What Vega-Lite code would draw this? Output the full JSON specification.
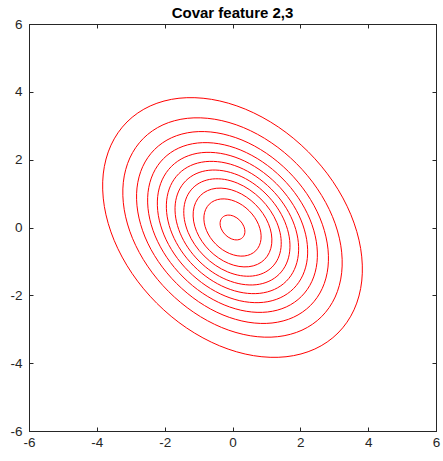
{
  "$schema": "https://vega.github.io/schema/vega-lite/v6.json",
  "width": 407,
  "height": 407,
  "autosize": "none",
  "padding": {"left": 29, "top": 24, "right": 7, "bottom": 30},
  "background": "white",
  "title": {"text": "Covar feature 2,3", "fontSize": 15, "fontWeight": "bold", "font": "Liberation Sans", "color": "#000000", "frame": "group", "offset": 7, "baseline": "alphabetic", "anchor": "middle", "dy": 23},
  "config": {
    "view": {"stroke": "#262626", "strokeWidth": 1},
    "axis": {"domainColor": "#262626", "tickColor": "#262626", "labelColor": "#262626", "labelFont": "Liberation Sans", "labelFontSize": 13.5, "tickSize": -4, "grid": false, "domainWidth": 1, "tickWidth": 1, "labelFlush": false, "labelOverlap": false, "title": null, "labelExpr": "datum.value < 0 ? '-' + abs(datum.value) : '' + datum.value"}
  },
  "data": {"values": [
    {"c":1,"i":0,"x":3.111,"y":-3.111},{"c":1,"i":1,"x":3.583,"y":-2.427},{"c":1,"i":2,"x":3.811,"y":-1.578},{"c":1,"i":3,"x":3.779,"y":-0.621},{"c":1,"i":4,"x":3.49,"y":0.378},{"c":1,"i":5,"x":2.963,"y":1.352},{"c":1,"i":6,"x":2.233,"y":2.233},{"c":1,"i":7,"x":1.352,"y":2.963},{"c":1,"i":8,"x":0.378,"y":3.49},{"c":1,"i":9,"x":-0.621,"y":3.779},{"c":1,"i":10,"x":-1.578,"y":3.811},{"c":1,"i":11,"x":-2.427,"y":3.583},{"c":1,"i":12,"x":-3.111,"y":3.111},{"c":1,"i":13,"x":-3.583,"y":2.427},{"c":1,"i":14,"x":-3.811,"y":1.578},{"c":1,"i":15,"x":-3.779,"y":0.621},{"c":1,"i":16,"x":-3.49,"y":-0.378},{"c":1,"i":17,"x":-2.963,"y":-1.352},{"c":1,"i":18,"x":-2.233,"y":-2.233},{"c":1,"i":19,"x":-1.352,"y":-2.963},{"c":1,"i":20,"x":-0.378,"y":-3.49},{"c":1,"i":21,"x":0.621,"y":-3.779},{"c":1,"i":22,"x":1.578,"y":-3.811},{"c":1,"i":23,"x":2.427,"y":-3.583},
    {"c":2,"i":0,"x":2.628,"y":-2.628},{"c":2,"i":1,"x":3.027,"y":-2.05},{"c":2,"i":2,"x":3.219,"y":-1.332},{"c":2,"i":3,"x":3.192,"y":-0.524},{"c":2,"i":4,"x":2.948,"y":0.32},{"c":2,"i":5,"x":2.502,"y":1.142},{"c":2,"i":6,"x":1.886,"y":1.886},{"c":2,"i":7,"x":1.142,"y":2.502},{"c":2,"i":8,"x":0.32,"y":2.948},{"c":2,"i":9,"x":-0.524,"y":3.192},{"c":2,"i":10,"x":-1.332,"y":3.219},{"c":2,"i":11,"x":-2.05,"y":3.027},{"c":2,"i":12,"x":-2.628,"y":2.628},{"c":2,"i":13,"x":-3.027,"y":2.05},{"c":2,"i":14,"x":-3.219,"y":1.332},{"c":2,"i":15,"x":-3.192,"y":0.524},{"c":2,"i":16,"x":-2.948,"y":-0.32},{"c":2,"i":17,"x":-2.502,"y":-1.142},{"c":2,"i":18,"x":-1.886,"y":-1.886},{"c":2,"i":19,"x":-1.142,"y":-2.502},{"c":2,"i":20,"x":-0.32,"y":-2.948},{"c":2,"i":21,"x":0.524,"y":-3.192},{"c":2,"i":22,"x":1.332,"y":-3.219},{"c":2,"i":23,"x":2.05,"y":-3.027},
    {"c":3,"i":0,"x":2.299,"y":-2.299},{"c":3,"i":1,"x":2.648,"y":-1.794},{"c":3,"i":2,"x":2.816,"y":-1.166},{"c":3,"i":3,"x":2.792,"y":-0.459},{"c":3,"i":4,"x":2.579,"y":0.28},{"c":3,"i":5,"x":2.189,"y":0.999},{"c":3,"i":6,"x":1.65,"y":1.65},{"c":3,"i":7,"x":0.999,"y":2.189},{"c":3,"i":8,"x":0.28,"y":2.579},{"c":3,"i":9,"x":-0.459,"y":2.792},{"c":3,"i":10,"x":-1.166,"y":2.816},{"c":3,"i":11,"x":-1.794,"y":2.648},{"c":3,"i":12,"x":-2.299,"y":2.299},{"c":3,"i":13,"x":-2.648,"y":1.794},{"c":3,"i":14,"x":-2.816,"y":1.166},{"c":3,"i":15,"x":-2.792,"y":0.459},{"c":3,"i":16,"x":-2.579,"y":-0.28},{"c":3,"i":17,"x":-2.189,"y":-0.999},{"c":3,"i":18,"x":-1.65,"y":-1.65},{"c":3,"i":19,"x":-0.999,"y":-2.189},{"c":3,"i":20,"x":-0.28,"y":-2.579},{"c":3,"i":21,"x":0.459,"y":-2.792},{"c":3,"i":22,"x":1.166,"y":-2.816},{"c":3,"i":23,"x":1.794,"y":-2.648},
    {"c":4,"i":0,"x":2.033,"y":-2.033},{"c":4,"i":1,"x":2.342,"y":-1.586},{"c":4,"i":2,"x":2.491,"y":-1.031},{"c":4,"i":3,"x":2.47,"y":-0.406},{"c":4,"i":4,"x":2.281,"y":0.247},{"c":4,"i":5,"x":1.936,"y":0.883},{"c":4,"i":6,"x":1.459,"y":1.459},{"c":4,"i":7,"x":0.883,"y":1.936},{"c":4,"i":8,"x":0.247,"y":2.281},{"c":4,"i":9,"x":-0.406,"y":2.47},{"c":4,"i":10,"x":-1.031,"y":2.491},{"c":4,"i":11,"x":-1.586,"y":2.342},{"c":4,"i":12,"x":-2.033,"y":2.033},{"c":4,"i":13,"x":-2.342,"y":1.586},{"c":4,"i":14,"x":-2.491,"y":1.031},{"c":4,"i":15,"x":-2.47,"y":0.406},{"c":4,"i":16,"x":-2.281,"y":-0.247},{"c":4,"i":17,"x":-1.936,"y":-0.883},{"c":4,"i":18,"x":-1.459,"y":-1.459},{"c":4,"i":19,"x":-0.883,"y":-1.936},{"c":4,"i":20,"x":-0.247,"y":-2.281},{"c":4,"i":21,"x":0.406,"y":-2.47},{"c":4,"i":22,"x":1.031,"y":-2.491},{"c":4,"i":23,"x":1.586,"y":-2.342},
    {"c":5,"i":0,"x":1.801,"y":-1.801},{"c":5,"i":1,"x":2.074,"y":-1.405},{"c":5,"i":2,"x":2.206,"y":-0.913},{"c":5,"i":3,"x":2.187,"y":-0.359},{"c":5,"i":4,"x":2.02,"y":0.219},{"c":5,"i":5,"x":1.715,"y":0.782},{"c":5,"i":6,"x":1.293,"y":1.293},{"c":5,"i":7,"x":0.782,"y":1.715},{"c":5,"i":8,"x":0.219,"y":2.02},{"c":5,"i":9,"x":-0.359,"y":2.187},{"c":5,"i":10,"x":-0.913,"y":2.206},{"c":5,"i":11,"x":-1.405,"y":2.074},{"c":5,"i":12,"x":-1.801,"y":1.801},{"c":5,"i":13,"x":-2.074,"y":1.405},{"c":5,"i":14,"x":-2.206,"y":0.913},{"c":5,"i":15,"x":-2.187,"y":0.359},{"c":5,"i":16,"x":-2.02,"y":-0.219},{"c":5,"i":17,"x":-1.715,"y":-0.782},{"c":5,"i":18,"x":-1.293,"y":-1.293},{"c":5,"i":19,"x":-0.782,"y":-1.715},{"c":5,"i":20,"x":-0.219,"y":-2.02},{"c":5,"i":21,"x":0.359,"y":-2.187},{"c":5,"i":22,"x":0.913,"y":-2.206},{"c":5,"i":23,"x":1.405,"y":-2.074},
    {"c":6,"i":0,"x":1.585,"y":-1.585},{"c":6,"i":1,"x":1.825,"y":-1.237},{"c":6,"i":2,"x":1.941,"y":-0.804},{"c":6,"i":3,"x":1.925,"y":-0.316},{"c":6,"i":4,"x":1.778,"y":0.193},{"c":6,"i":5,"x":1.509,"y":0.689},{"c":6,"i":6,"x":1.138,"y":1.138},{"c":6,"i":7,"x":0.689,"y":1.509},{"c":6,"i":8,"x":0.193,"y":1.778},{"c":6,"i":9,"x":-0.316,"y":1.925},{"c":6,"i":10,"x":-0.804,"y":1.941},{"c":6,"i":11,"x":-1.237,"y":1.825},{"c":6,"i":12,"x":-1.585,"y":1.585},{"c":6,"i":13,"x":-1.825,"y":1.237},{"c":6,"i":14,"x":-1.941,"y":0.804},{"c":6,"i":15,"x":-1.925,"y":0.316},{"c":6,"i":16,"x":-1.778,"y":-0.193},{"c":6,"i":17,"x":-1.509,"y":-0.689},{"c":6,"i":18,"x":-1.138,"y":-1.138},{"c":6,"i":19,"x":-0.689,"y":-1.509},{"c":6,"i":20,"x":-0.193,"y":-1.778},{"c":6,"i":21,"x":0.316,"y":-1.925},{"c":6,"i":22,"x":0.804,"y":-1.941},{"c":6,"i":23,"x":1.237,"y":-1.825},
    {"c":7,"i":0,"x":1.377,"y":-1.377},{"c":7,"i":1,"x":1.586,"y":-1.074},{"c":7,"i":2,"x":1.687,"y":-0.698},{"c":7,"i":3,"x":1.672,"y":-0.275},{"c":7,"i":4,"x":1.544,"y":0.167},{"c":7,"i":5,"x":1.311,"y":0.598},{"c":7,"i":6,"x":0.988,"y":0.988},{"c":7,"i":7,"x":0.598,"y":1.311},{"c":7,"i":8,"x":0.167,"y":1.544},{"c":7,"i":9,"x":-0.275,"y":1.672},{"c":7,"i":10,"x":-0.698,"y":1.687},{"c":7,"i":11,"x":-1.074,"y":1.586},{"c":7,"i":12,"x":-1.377,"y":1.377},{"c":7,"i":13,"x":-1.586,"y":1.074},{"c":7,"i":14,"x":-1.687,"y":0.698},{"c":7,"i":15,"x":-1.672,"y":0.275},{"c":7,"i":16,"x":-1.544,"y":-0.167},{"c":7,"i":17,"x":-1.311,"y":-0.598},{"c":7,"i":18,"x":-0.988,"y":-0.988},{"c":7,"i":19,"x":-0.598,"y":-1.311},{"c":7,"i":20,"x":-0.167,"y":-1.544},{"c":7,"i":21,"x":0.275,"y":-1.672},{"c":7,"i":22,"x":0.698,"y":-1.687},{"c":7,"i":23,"x":1.074,"y":-1.586},
    {"c":8,"i":0,"x":1.167,"y":-1.167},{"c":8,"i":1,"x":1.344,"y":-0.911},{"c":8,"i":2,"x":1.43,"y":-0.592},{"c":8,"i":3,"x":1.418,"y":-0.233},{"c":8,"i":4,"x":1.309,"y":0.142},{"c":8,"i":5,"x":1.112,"y":0.507},{"c":8,"i":6,"x":0.838,"y":0.838},{"c":8,"i":7,"x":0.507,"y":1.112},{"c":8,"i":8,"x":0.142,"y":1.309},{"c":8,"i":9,"x":-0.233,"y":1.418},{"c":8,"i":10,"x":-0.592,"y":1.43},{"c":8,"i":11,"x":-0.911,"y":1.344},{"c":8,"i":12,"x":-1.167,"y":1.167},{"c":8,"i":13,"x":-1.344,"y":0.911},{"c":8,"i":14,"x":-1.43,"y":0.592},{"c":8,"i":15,"x":-1.418,"y":0.233},{"c":8,"i":16,"x":-1.309,"y":-0.142},{"c":8,"i":17,"x":-1.112,"y":-0.507},{"c":8,"i":18,"x":-0.838,"y":-0.838},{"c":8,"i":19,"x":-0.507,"y":-1.112},{"c":8,"i":20,"x":-0.142,"y":-1.309},{"c":8,"i":21,"x":0.233,"y":-1.418},{"c":8,"i":22,"x":0.592,"y":-1.43},{"c":8,"i":23,"x":0.911,"y":-1.344},
    {"c":9,"i":0,"x":0.944,"y":-0.944},{"c":9,"i":1,"x":1.087,"y":-0.736},{"c":9,"i":2,"x":1.156,"y":-0.479},{"c":9,"i":3,"x":1.147,"y":-0.188},{"c":9,"i":4,"x":1.059,"y":0.115},{"c":9,"i":5,"x":0.899,"y":0.41},{"c":9,"i":6,"x":0.678,"y":0.678},{"c":9,"i":7,"x":0.41,"y":0.899},{"c":9,"i":8,"x":0.115,"y":1.059},{"c":9,"i":9,"x":-0.188,"y":1.147},{"c":9,"i":10,"x":-0.479,"y":1.156},{"c":9,"i":11,"x":-0.736,"y":1.087},{"c":9,"i":12,"x":-0.944,"y":0.944},{"c":9,"i":13,"x":-1.087,"y":0.736},{"c":9,"i":14,"x":-1.156,"y":0.479},{"c":9,"i":15,"x":-1.147,"y":0.188},{"c":9,"i":16,"x":-1.059,"y":-0.115},{"c":9,"i":17,"x":-0.899,"y":-0.41},{"c":9,"i":18,"x":-0.678,"y":-0.678},{"c":9,"i":19,"x":-0.41,"y":-0.899},{"c":9,"i":20,"x":-0.115,"y":-1.059},{"c":9,"i":21,"x":0.188,"y":-1.147},{"c":9,"i":22,"x":0.479,"y":-1.156},{"c":9,"i":23,"x":0.736,"y":-1.087},
    {"c":10,"i":0,"x":0.686,"y":-0.686},{"c":10,"i":1,"x":0.79,"y":-0.535},{"c":10,"i":2,"x":0.84,"y":-0.348},{"c":10,"i":3,"x":0.833,"y":-0.137},{"c":10,"i":4,"x":0.769,"y":0.083},{"c":10,"i":5,"x":0.653,"y":0.298},{"c":10,"i":6,"x":0.492,"y":0.492},{"c":10,"i":7,"x":0.298,"y":0.653},{"c":10,"i":8,"x":0.083,"y":0.769},{"c":10,"i":9,"x":-0.137,"y":0.833},{"c":10,"i":10,"x":-0.348,"y":0.84},{"c":10,"i":11,"x":-0.535,"y":0.79},{"c":10,"i":12,"x":-0.686,"y":0.686},{"c":10,"i":13,"x":-0.79,"y":0.535},{"c":10,"i":14,"x":-0.84,"y":0.348},{"c":10,"i":15,"x":-0.833,"y":0.137},{"c":10,"i":16,"x":-0.769,"y":-0.083},{"c":10,"i":17,"x":-0.653,"y":-0.298},{"c":10,"i":18,"x":-0.492,"y":-0.492},{"c":10,"i":19,"x":-0.298,"y":-0.653},{"c":10,"i":20,"x":-0.083,"y":-0.769},{"c":10,"i":21,"x":0.137,"y":-0.833},{"c":10,"i":22,"x":0.348,"y":-0.84},{"c":10,"i":23,"x":0.535,"y":-0.79},
    {"c":11,"i":0,"x":0.297,"y":-0.297},{"c":11,"i":1,"x":0.342,"y":-0.232},{"c":11,"i":2,"x":0.364,"y":-0.151},{"c":11,"i":3,"x":0.361,"y":-0.059},{"c":11,"i":4,"x":0.333,"y":0.036},{"c":11,"i":5,"x":0.283,"y":0.129},{"c":11,"i":6,"x":0.213,"y":0.213},{"c":11,"i":7,"x":0.129,"y":0.283},{"c":11,"i":8,"x":0.036,"y":0.333},{"c":11,"i":9,"x":-0.059,"y":0.361},{"c":11,"i":10,"x":-0.151,"y":0.364},{"c":11,"i":11,"x":-0.232,"y":0.342},{"c":11,"i":12,"x":-0.297,"y":0.297},{"c":11,"i":13,"x":-0.342,"y":0.232},{"c":11,"i":14,"x":-0.364,"y":0.151},{"c":11,"i":15,"x":-0.361,"y":0.059},{"c":11,"i":16,"x":-0.333,"y":-0.036},{"c":11,"i":17,"x":-0.283,"y":-0.129},{"c":11,"i":18,"x":-0.213,"y":-0.213},{"c":11,"i":19,"x":-0.129,"y":-0.283},{"c":11,"i":20,"x":-0.036,"y":-0.333},{"c":11,"i":21,"x":0.059,"y":-0.361},{"c":11,"i":22,"x":0.151,"y":-0.364},{"c":11,"i":23,"x":0.232,"y":-0.342}
  ]},
  "layer": [
    {
      "mark": {"type": "line", "interpolate": "cardinal-closed", "color": "#ff0000", "strokeWidth": 1},
      "encoding": {
        "x": {"field": "x", "type": "quantitative", "scale": {"domain": [-6, 6], "nice": false, "zero": false}, "axis": {"orient": "bottom", "values": [-6, -4, -2, 0, 2, 4, 6], "labelPadding": 8}},
        "y": {"field": "y", "type": "quantitative", "scale": {"domain": [-6, 6], "nice": false, "zero": false}, "axis": {"orient": "left", "values": [-6, -4, -2, 0, 2, 4, 6], "labelPadding": 11}},
        "detail": {"field": "c", "type": "nominal"},
        "order": {"field": "i", "type": "quantitative"}
      }
    },
    {
      "mark": {"type": "line", "strokeOpacity": 0},
      "encoding": {
        "x": {"field": "x", "type": "quantitative", "axis": {"orient": "top", "values": [-6, -4, -2, 0, 2, 4, 6], "labels": false}},
        "y": {"field": "y", "type": "quantitative", "axis": {"orient": "right", "values": [-6, -4, -2, 0, 2, 4, 6], "labels": false}},
        "detail": {"field": "c", "type": "nominal"},
        "order": {"field": "i", "type": "quantitative"}
      }
    }
  ],
  "resolve": {"axis": {"x": "independent", "y": "independent"}}
}
